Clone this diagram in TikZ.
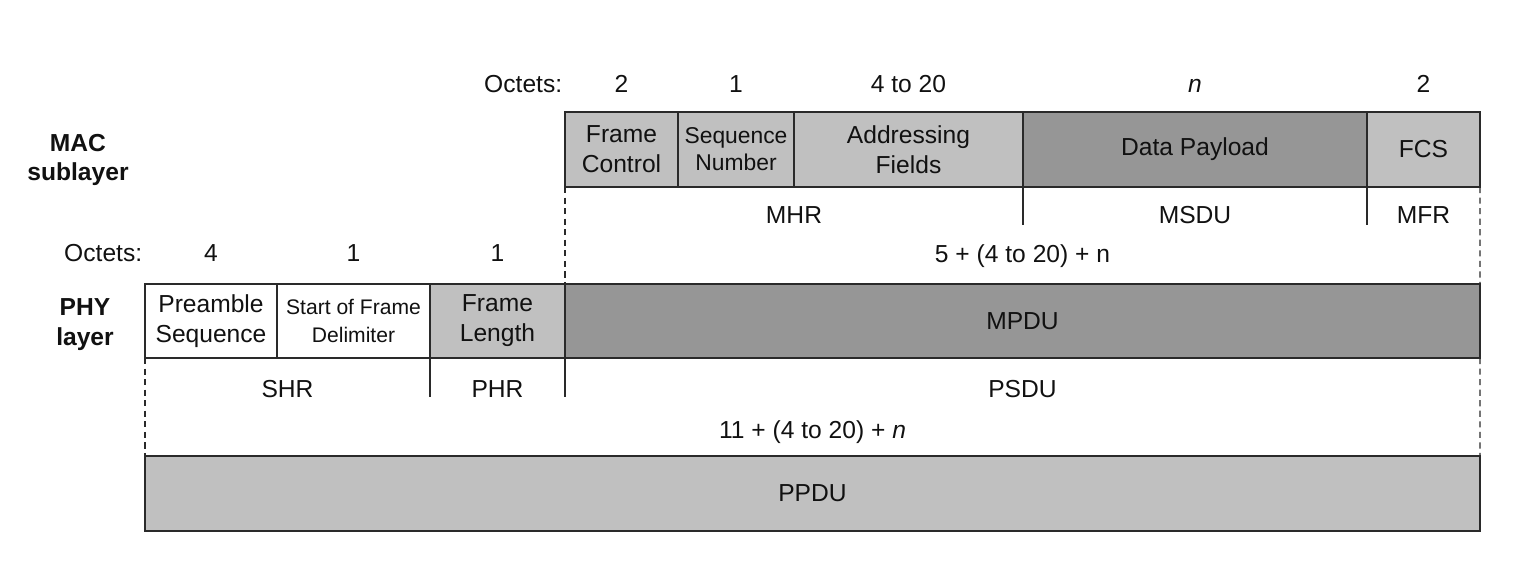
\documentclass[tikz,border=0pt]{standalone}
\usepackage{fontspec}
\setmainfont{Liberation Sans}
\usetikzlibrary{positioning, calc}
\definecolor{clrlight}{HTML}{C0C0C0}
\definecolor{clrdark}{HTML}{969696}
\definecolor{clrborder}{HTML}{2A2A2A}
\definecolor{clrtext}{HTML}{111111}

\begin{document}
\begin{tikzpicture}[
    every node/.style={font=\fontsize{14}{17}\selectfont, text=clrtext},
    field/.style={draw=clrborder, line width=0.9pt, outer sep=0pt, inner sep=0pt,
                  minimum height=1.5cm, align=center},
    octet/.style={inner sep=0pt, text depth=0pt},
    sublabel/.style={inner sep=0pt, anchor=base},
    layerlabel/.style={font=\bfseries\fontsize{14}{17}\selectfont, align=center},
    divider/.style={draw=clrborder, line width=0.6pt},
    bracket/.style={draw=clrborder, line width=0.6pt, dash pattern=on 3.5pt off 2.5pt},
]
\useasboundingbox (0,0) rectangle (30.46,-11.52);
% MAC frame
\node[field, fill=clrlight, minimum width=2.26cm] (fc) at (12.43,-2.99) {Frame\\Control};
\node[field, fill=clrlight, minimum width=2.32cm, right=0cm of fc,
      font=\fontsize{13}{15.5}\selectfont] (sn) {Sequence\\Number};
\node[field, fill=clrlight, minimum width=4.58cm, right=0cm of sn] (af) {Addressing\\Fields};
\node[field, fill=clrdark, minimum width=6.88cm, right=0cm of af] (dp) {Data Payload};
\node[field, fill=clrlight, minimum width=2.26cm, right=0cm of dp] (fcs) {FCS};
% PHY frame
\node[field, fill=clrdark, minimum width=18.30cm, minimum height=1.48cm, anchor=north west]
    (mpdu) at ([yshift=-1.94cm]fc.south west) {MPDU};
\node[field, fill=clrlight, minimum width=2.70cm, minimum height=1.48cm, left=0cm of mpdu] (fl) {Frame\\Length};
\node[field, fill=white, minimum width=3.06cm, minimum height=1.48cm, left=0cm of fl,
      font=\fontsize{12}{15.5}\selectfont] (sfd) {Start of Frame\\Delimiter};
\node[field, fill=white, minimum width=2.64cm, minimum height=1.48cm, left=0cm of sfd] (ps) {Preamble\\Sequence};
\node[field, fill=clrlight, minimum width=26.70cm, anchor=north west]
    (ppdu) at ([yshift=-1.96cm]ps.south west) {PPDU};
% layer names
\node[layerlabel] (mac_name) at (1.56,-3.20) {MAC\\sublayer};
\node[layerlabel] (phy_name) at (1.70,-6.50) {PHY\\layer};
% octet counts
\node[octet, anchor=south east] (oct_mac) at ([xshift=-0.05cm, yshift=0.38cm]fc.north west) {Octets:};
\node[octet, above=0.38cm of fc] (oct_fc) {2};
\node[octet, above=0.38cm of sn] (oct_sn) {1};
\node[octet, above=0.38cm of af] (oct_af) {4 to 20};
\node[octet, above=0.38cm of dp] (oct_dp) {\textit{n}};
\node[octet, above=0.38cm of fcs] (oct_fcs) {2};
\node[octet, anchor=south east] (oct_phy) at ([xshift=-0.05cm, yshift=0.44cm]ps.north west) {Octets:};
\node[octet, above=0.44cm of ps] (oct_ps) {4};
\node[octet, above=0.44cm of sfd] (oct_sfd) {1};
\node[octet, above=0.44cm of fl] (oct_fl) {1};
\node[sublabel] (len_mac) at ([yshift=0.44cm]mpdu.north) {5 + (4 to 20) + n};
\node[sublabel] (len_phy) at ([yshift=0.36cm]ppdu.north) {11 + (4 to 20) + \textit{n}};
% header / unit names
\node[sublabel] (mhr) at ([yshift=-0.72cm]$(fc.south west)!0.5!(af.south east)$) {MHR};
\node[sublabel] (msdu) at ([yshift=-0.72cm]dp.south) {MSDU};
\node[sublabel] (mfr) at ([yshift=-0.72cm]fcs.south) {MFR};
\node[sublabel] (shr) at ([yshift=-0.78cm]$(ps.south west)!0.5!(sfd.south east)$) {SHR};
\node[sublabel] (phr) at ([yshift=-0.78cm]fl.south) {PHR};
\node[sublabel] (psdu) at ([yshift=-0.78cm]mpdu.south) {PSDU};
% separators
\draw[divider] (af.south east) -- ++(0,-0.76);
\draw[divider] (dp.south east) -- ++(0,-0.76);
\draw[divider] (sfd.south east) -- ++(0,-0.78);
\draw[divider] (fl.south east) -- ++(0,-0.78);
\draw[bracket] (fc.south west) -- (mpdu.north west);
\draw[bracket] (fcs.south east) -- (mpdu.north east);
\draw[bracket] (ps.south west) -- (ppdu.north west);
\draw[bracket] (mpdu.south east) -- (ppdu.north east);
\end{tikzpicture}
\end{document}
